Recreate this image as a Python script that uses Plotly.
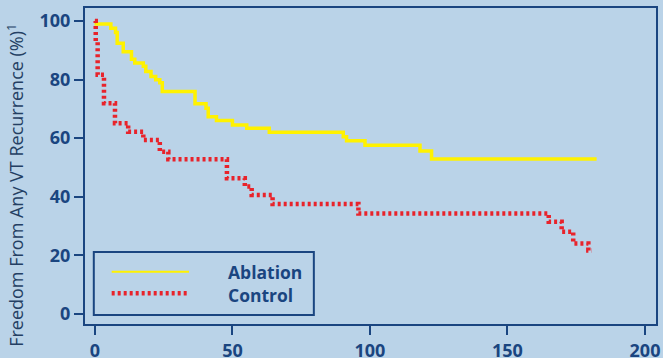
import plotly.graph_objects as go

# Kaplan-Meier step data (months, % free of VT recurrence)
abl_t = [0, 0.5, 5.8, 7.5, 8.1, 10.3, 13.3, 14.5, 17.6, 18.5, 20.4, 22.1, 23.6, 24.5,
         36.4, 40.4, 41.2, 44.2, 50.0, 55.2, 63.4, 90.3, 91.5, 98.2, 118.2, 122.4, 182.4]
abl_v = [100, 98.9, 97.5, 96.0, 92.4, 89.5, 86.9, 85.6, 84.5, 82.7, 81.0, 79.9, 78.9, 75.9,
         71.7, 70.2, 67.3, 66.0, 64.5, 63.4, 62.0, 60.5, 59.1, 57.6, 55.6, 52.9, 52.9]

ctrl_t = [0, 0.3, 1.0, 3.3, 7.3, 12.1, 17.6, 23.6, 26.7, 48.0, 54.5, 57.0, 64.6, 95.8,
          165.0, 169.7, 173.9, 179.4, 180.6]
ctrl_v = [100, 93.0, 81.6, 71.9, 65.1, 62.2, 59.4, 55.4, 52.8, 46.3, 43.5, 40.6, 37.5, 34.3,
          31.5, 28.1, 24.1, 21.7, 21.7]

x_ticks = [0, 50, 100, 150, 200]
y_ticks = [0, 20, 40, 60, 80, 100]
series_names = ["Ablation", "Control"]
y_title = "Freedom From Any VT Recurrence (%)<sup>1</sup>"

BG = "#bad3e8"
NAVY = "#1a4580"
YELLOW = "#fff200"
RED = "#e8232b"

fig = go.Figure()
fig.add_trace(go.Scatter(x=abl_t, y=abl_v, mode="lines", line=dict(shape="hv", color=YELLOW, width=3.5),
                         name=series_names[0], showlegend=False))
fig.add_trace(go.Scatter(x=ctrl_t, y=ctrl_v, mode="lines", line=dict(shape="hv", color=RED, width=4.5, dash="3px,3px"),
                         name=series_names[1], showlegend=False))

# manual legend box
fig.add_shape(type="rect", xref="x", yref="y", x0=-0.4, x1=79.6, y0=-0.3, y1=21.2,
              line=dict(color=NAVY, width=2), fillcolor="rgba(0,0,0,0)")
fig.add_shape(type="line", xref="x", yref="y", x0=6.1, x1=34.2, y0=14.4, y1=14.4,
              line=dict(color=YELLOW, width=2))
fig.add_shape(type="line", xref="x", yref="y", x0=6.1, x1=34.2, y0=7.1, y1=7.1,
              line=dict(color=RED, width=4.5, dash="3px,3px"))
fig.add_annotation(x=47.6, y=14.4, xref="x", yref="y", text=series_names[0], showarrow=False,
                   xanchor="left", yanchor="middle", font=dict(family="Open Sans", size=17.5, color=NAVY, weight="bold"))
fig.add_annotation(x=47.6, y=6.6, xref="x", yref="y", text=series_names[1], showarrow=False,
                   xanchor="left", yanchor="middle", font=dict(family="Open Sans", size=17.5, color=NAVY, weight="bold"))

# y-axis title
fig.add_annotation(x=-0.121, y=0.44, xref="paper", yref="paper", text=y_title, showarrow=False,
                   textangle=-90, xanchor="center", yanchor="middle",
                   font=dict(family="Open Sans", size=18, color="#243f63"))

axis_common = dict(showline=True, mirror=True, linecolor=NAVY, linewidth=2, ticks="outside",
                   ticklen=9, tickwidth=2, tickcolor=NAVY, showgrid=False, zeroline=False,
                   automargin=False,
                   tickfont=dict(family="Open Sans", size=18, color=NAVY, weight="bold"))

fig.update_xaxes(range=[-3.6, 204], tickvals=x_ticks, ticktext=[str(v) for v in x_ticks], **axis_common)
fig.update_yaxes(range=[-3.4, 104.4], tickvals=y_ticks, ticktext=[str(v) for v in y_ticks], **axis_common)

fig.update_layout(width=663, height=358, margin=dict(l=85, r=7, t=8, b=34),
                  paper_bgcolor=BG, plot_bgcolor=BG, showlegend=False)

fig.write_html("out.html", config={"displayModeBar": False},
               post_script="document.body.style.margin='0';document.body.style.overflow='hidden';document.body.style.background='" + BG + "';")
